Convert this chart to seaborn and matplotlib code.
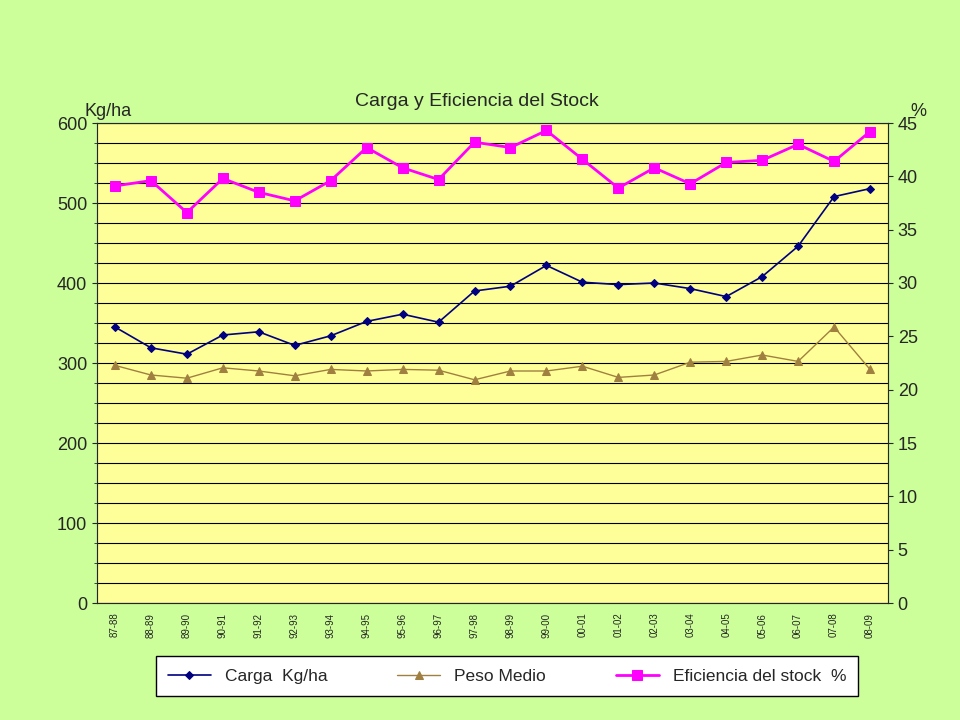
import matplotlib
matplotlib.use("Agg")
import matplotlib.pyplot as plt
import seaborn as sns
import pandas as pd
import numpy as np

cats = ["87-88","88-89","89-90","90-91","91-92","92-93","93-94","94-95","95-96","96-97","97-98",
        "98-99","99-00","00-01","01-02","02-03","03-04","04-05","05-06","06-07","07-08","08-09"]
carga = [345,319,311,335,339,322,334,352,361,351,390,396,422,401,398,400,393,383,408,446,508,518]
peso = [297,285,281,294,290,284,292,290,292,291,279,290,290,296,282,285,301,302,310,302,345,292]
efic = [39.1,39.6,36.6,39.8,38.5,37.7,39.6,42.7,40.8,39.7,43.2,42.7,44.3,41.6,38.9,40.8,39.3,41.3,41.5,43.0,41.4,44.2]

sns.set_style("white")
plt.rcParams['font.family'] = ['Liberation Sans', 'DejaVu Sans']

fig = plt.figure(figsize=(9.6, 7.2), dpi=100, facecolor="#CCFF99")
ax = fig.add_axes([97/960, 117/720, 791/960, 480/720])
ax.set_facecolor("#FFFF99")
df = pd.DataFrame({"cat": cats, "carga": carga, "peso": peso, "efic": efic})
x = np.arange(len(cats))
sns.lineplot(x=x, y=df["carga"], ax=ax, color="#000080", marker="D", markersize=4, markeredgecolor="#000080",
             lw=1.2, label="Carga  Kg/ha", legend=False)
sns.lineplot(x=x, y=df["peso"], ax=ax, color="#A08040", marker="^", markersize=6, markeredgecolor="#A08040",
             lw=1.0, label="Peso Medio", legend=False)
ax.set_ylim(0, 600)
ax.set_xlim(-0.5, len(cats) - 0.5)
ax.set_yticks(range(0, 601, 100))
ax.set_yticks(range(0, 601, 25), minor=True)
ax.yaxis.grid(True, which="both", color="black", lw=0.8)
ax.set_axisbelow(True)
ax.set_xticks(x)
ax.set_xticklabels(cats, rotation=90, fontsize=7)
ax.tick_params(axis="y", labelsize=13)
ax.set_xlabel(""); ax.set_ylabel("")
for s in ax.spines.values():
    s.set_color("#808080")

ax2 = ax.twinx()
sns.lineplot(x=x, y=df["efic"], ax=ax2, color="#FF00FF", marker="s", markersize=7, markeredgecolor="#FF00FF",
             lw=2, label="Eficiencia del stock  %", legend=False)
ax2.set_ylim(0, 45)
ax2.set_yticks(range(0, 46, 5))
ax2.tick_params(axis="y", labelsize=13)
ax2.set_ylabel("")

fig.text(85/960, 1 - 116/720, "Kg/ha", fontsize=13)
fig.text(910/960, 1 - 116/720, "%", fontsize=13)
fig.text(477/960, 1 - 106/720, "Carga y Eficiencia del Stock", fontsize=14, ha="center")

h1, l1 = ax.get_legend_handles_labels()
h2, l2 = ax2.get_legend_handles_labels()
leg = fig.legend(h1 + h2, l1 + l2, loc="center", bbox_to_anchor=(507/960, 1 - 676/720), ncol=3,
                 fontsize=12.5, frameon=True, fancybox=False, edgecolor="black", columnspacing=4,
                 handlelength=2.5, borderpad=0.7, framealpha=1)
leg.get_frame().set_facecolor("white")
fig.savefig("out.png", dpi=100, facecolor=fig.get_facecolor())
